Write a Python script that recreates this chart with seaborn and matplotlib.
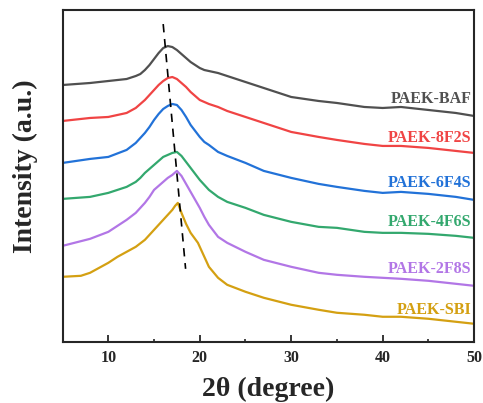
import matplotlib
matplotlib.use("Agg")
import matplotlib.pyplot as plt
import pandas as pd
import seaborn as sns
from matplotlib.ticker import MultipleLocator

# ── data (intensity in arbitrary stacked units) ────────────────────────────────
two_theta = [5, 8, 10, 12, 13, 13.5, 14, 14.5, 15, 15.5, 16, 16.5, 17, 17.5,
             18, 18.5, 19, 19.5, 20, 20.5, 21, 22, 23, 25, 27, 30, 33, 35,
             38, 40, 42, 45, 48, 50]

baf = [257, 259, 261, 263, 266, 268, 272, 277, 283, 289, 294, 296, 295, 292,
       288, 284, 280, 277, 274, 272, 271, 269, 266, 260, 254, 245, 241, 239,
       235, 234, 235, 232, 229, 226]
f8s2 = [221, 224, 225, 229, 234, 238, 242, 247, 252, 257, 261, 264, 265, 263,
        259, 255, 250, 246, 242, 240, 238, 235, 231, 225, 219, 210, 205, 202,
        198, 196, 196, 194, 191, 189]
f6s4 = [179, 183, 185, 192, 199, 204, 209, 215, 222, 228, 233, 236, 238, 237,
        232, 225, 217, 211, 205, 200, 197, 190, 186, 179, 171, 164, 158, 155,
        151, 149, 150, 148, 145, 142]
f4s6 = [143, 145, 149, 155, 160, 164, 169, 173, 177, 181, 185, 187, 189, 190,
        186, 180, 174, 168, 162, 157, 152, 145, 140, 134, 127, 120, 115, 114,
        110, 109, 109, 108, 106, 104]
f2s8 = [96, 103, 110, 122, 129, 134, 139, 145, 152, 156, 160, 164, 167, 171,
        166, 158, 150, 142, 134, 125, 117, 105, 99, 90, 82, 75, 69, 67,
        65, 64, 63, 61, 58, 56]

# SBI has a sharper peak and a shoulder near 20 deg, so it gets its own grid
two_theta_sbi = [5, 7, 8, 9, 10, 11, 12, 13, 14, 15, 16, 16.5, 17, 17.3, 17.6,
                 18, 18.5, 19, 19.8, 20.3, 21, 22, 23, 25, 27, 30, 33, 35, 38,
                 40, 42, 45, 48, 50]
sbi = [65, 66, 69, 74, 79, 85, 90, 95, 102, 112, 122, 127, 132, 136, 139,
       129, 118, 109, 99, 89, 75, 64, 57, 50, 44, 37, 32, 29, 27,
       25, 25, 23, 20, 18]

names = ["PAEK-BAF", "PAEK-8F2S", "PAEK-6F4S", "PAEK-4F6S", "PAEK-2F8S", "PAEK-SBI"]
colors = ["#505050", "#f04444", "#2272d8", "#33a86e", "#b276e6", "#d4a012"]
label_y = [243, 204, 159, 120, 73, 32]

# peak-shift guide
guide_x = [16.0, 18.45]
guide_y = [318, 73]

rows = []
for name, ys in zip(names[:5], [baf, f8s2, f6s4, f4s6, f2s8]):
    rows += [{"x": x, "y": y, "sample": name} for x, y in zip(two_theta, ys)]
rows += [{"x": x, "y": y, "sample": names[5]} for x, y in zip(two_theta_sbi, sbi)]
df = pd.DataFrame(rows)

sns.set_style("ticks")
plt.rcParams["font.family"] = ["Liberation Serif", "DejaVu Serif"]
plt.rcParams["font.weight"] = "bold"

fig = plt.figure(figsize=(4.83, 4.03), dpi=100)
ax = fig.add_axes([0.1296, 0.152, 0.852, 0.823])

sns.lineplot(data=df, x="x", y="y", hue="sample", hue_order=names,
             palette=colors, linewidth=1.6, legend=False, ax=ax)

ax.plot(guide_x, guide_y, color="black", linestyle=(0, (5, 4)), linewidth=1.2)

for name, c, ly in zip(names, colors, label_y):
    ax.text(49.7, ly, name, color=c, ha="right", va="center",
            fontsize=11.5, fontweight="bold")

ax.set_xlim(5, 50)
ax.set_ylim(0, 332)
ax.xaxis.set_major_locator(MultipleLocator(10))
ax.xaxis.set_minor_locator(MultipleLocator(5))
ax.set_yticks([])
ax.tick_params(axis="x", which="major", direction="in", length=5, width=1.3,
               labelsize=11.5, pad=6)
ax.tick_params(axis="x", which="minor", direction="in", length=2.5, width=1.2)
for lab in ax.get_xticklabels():
    lab.set_fontweight("bold")
for sp in ax.spines.values():
    sp.set_linewidth(1.5)
    sp.set_visible(True)

ax.set_xlabel("2θ (degree)", fontsize=20, fontweight="bold", labelpad=8)
ax.set_ylabel("Intensity (a.u.)", fontsize=20, fontweight="bold")
ax.yaxis.set_label_coords(-0.06, 0.53)

fig.savefig("out.png", dpi=100)
